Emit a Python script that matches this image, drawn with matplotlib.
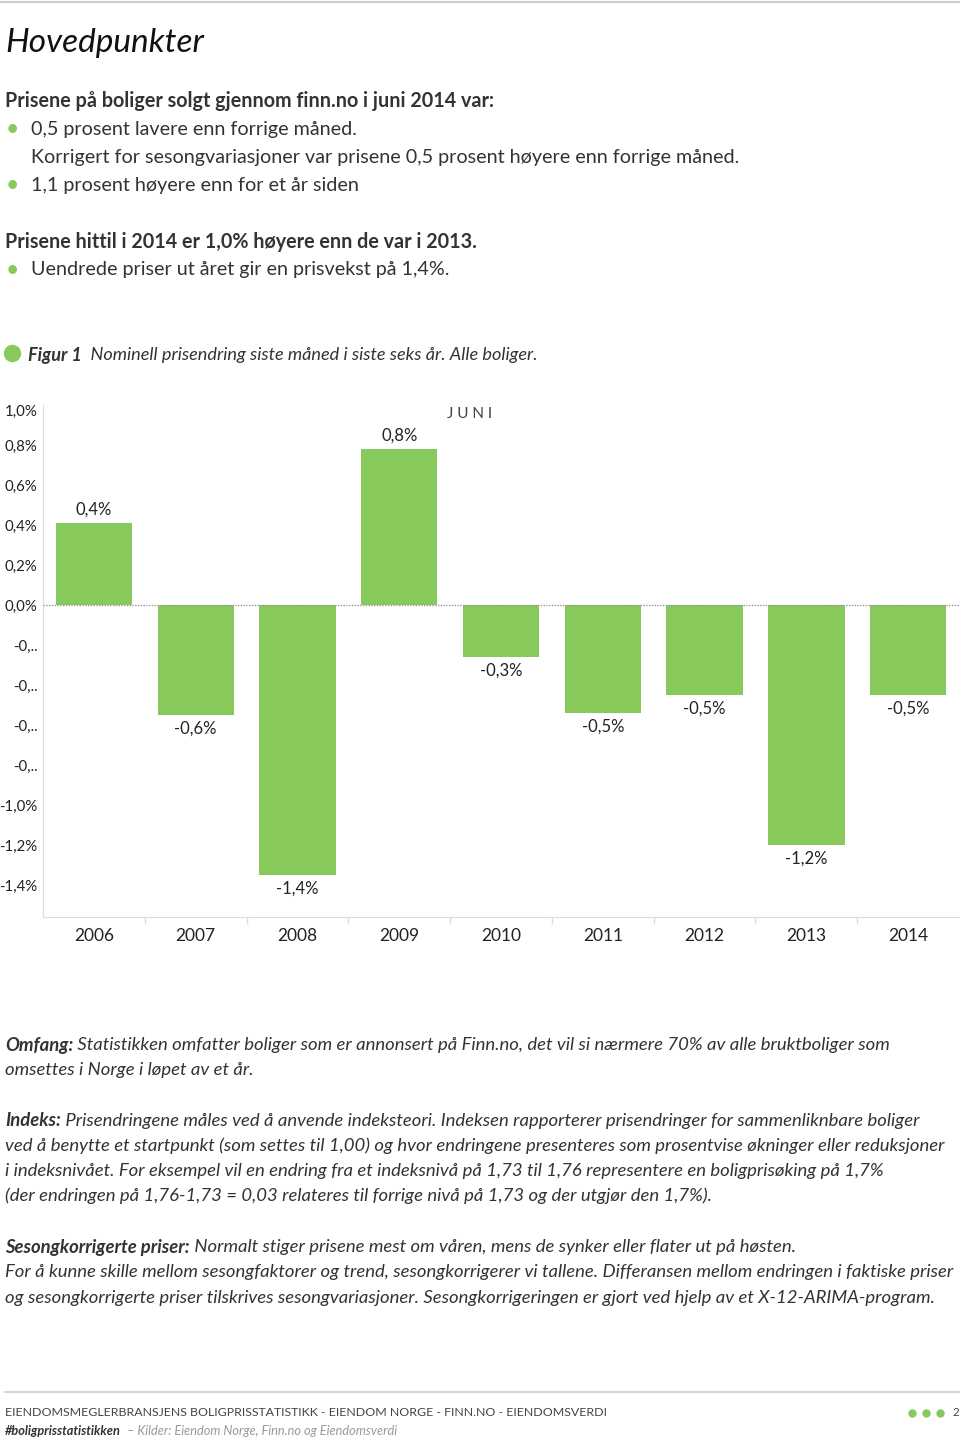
import matplotlib
matplotlib.use("Agg")
import matplotlib.pyplot as plt
from matplotlib.lines import Line2D

plt.rcParams['font.family'] = ['Lato', 'DejaVu Sans']

W, H = 960, 1442
GREEN = "#88c95c"
TXT = "#333333"

# chart data
years = ["2006", "2007", "2008", "2009", "2010", "2011", "2012", "2013", "2014"]
changes = [0.41, -0.55, -1.35, 0.78, -0.26, -0.54, -0.45, -1.2, -0.45]
bar_labels = ["0,4%", "-0,6%", "-1,4%", "0,8%", "-0,3%", "-0,5%", "-0,5%", "-1,2%", "-0,5%"]
yticks = [1.0, 0.8, 0.6, 0.4, 0.2, 0.0, -0.2, -0.4, -0.6, -0.8, -1.0, -1.2, -1.4]
ytick_labels = ["1,0%", "0,8%", "0,6%", "0,4%", "0,2%", "0,0%",
                "-0,..", "-0,..", "-0,..", "-0,..", "-1,0%", "-1,2%", "-1,4%"]


def fx(px):
    return px / W


def fy(py):
    return 1 - py / H


fig = plt.figure(figsize=(9.6, 14.42), dpi=100)


def line(x, y, parts, size, color=TXT):
    first = parts[0]
    t = fig.text(fx(x), fy(y), first[0], fontsize=size, fontweight=first[1],
                 fontstyle=first[2], color=first[3] or color, va="center", ha="left")
    for text, weight, style, col in parts[1:]:
        t = fig.gca().annotate(text, xy=(1, 0.5), xycoords=t, fontsize=size,
                               fontweight=weight, fontstyle=style, color=col or color,
                               va="center", ha="left", annotation_clip=False)
    return t


# frame lines
fig.add_artist(Line2D([0, 1], [fy(2), fy(2)], color="#cccccc", lw=1.5, transform=fig.transFigure))
fig.add_artist(Line2D([fx(5), 1], [fy(1392), fy(1392)], color="#cccccc", lw=1.2, transform=fig.transFigure))

# chart axes
ax = fig.add_axes([fx(43), fy(917), fx(916), 512 / H])
x = list(range(len(years)))
ax.bar(x, changes, width=0.75, color=GREEN, zorder=2)
ax.axhline(0, color="#999999", lw=1, ls=(0, (1, 1)), zorder=3)
for i, (v, lab) in enumerate(zip(changes, bar_labels)):
    off = 13 if v >= 0 else -14
    ax.annotate(lab, xy=(i, v), xytext=(0, off), textcoords="offset pixels",
                ha="center", va="center", fontsize=12, color="#222222")
ax.set_xlim(-0.5, len(years) - 0.5)
ax.set_ylim(-1.56, 1.0)
ax.set_yticks(yticks)
ax.set_yticklabels(ytick_labels, fontsize=10.8, color="#222222")
ax.tick_params(axis="y", length=0, pad=4)
ax.set_xticks([i + 0.5 for i in x[:-1]], minor=False)
ax.set_xticklabels([])
ax.tick_params(axis="x", length=5, color="#dddddd", width=1)
ax.set_xticks(x, minor=True)
ax.set_xticklabels(years, minor=True, fontsize=12.5, color="#222222")
ax.tick_params(axis="x", which="minor", length=0, pad=8)
for s in ["top", "right"]:
    ax.spines[s].set_visible(False)
ax.spines["left"].set_color("#dddddd")
ax.spines["bottom"].set_color("#dddddd")
ax.yaxis.get_ticklabels()[0].set_va("top")
fig.text(fx(470), fy(414), "J U N I", fontsize=11, color="#444444", ha="center", va="center")

# header text
fig.text(fx(5), fy(43), "Hovedpunkter", fontsize=24, fontstyle="italic", color="#111111",
         va="center", ha="left")
S = 14.2
line(5, 101, [("Prisene på boliger solgt gjennom finn.no i juni 2014 var:", "bold", "normal", None)], S)
for yy in (129, 185, 270):
    fig.text(fx(7), fy(yy), "•", fontsize=S, color=GREEN, va="center", ha="left", fontweight="bold")
line(31, 129, [("0,5 prosent lavere enn forrige måned.", "normal", "normal", None)], S)
line(31, 157, [("Korrigert for sesongvariasjoner var prisene 0,5 prosent høyere enn forrige måned.", "normal", "normal", None)], S)
line(31, 185, [("1,1 prosent høyere enn for et år siden", "normal", "normal", None)], S)
line(5, 242, [("Prisene hittil i 2014 er 1,0% høyere enn de var i 2013.", "bold", "normal", None)], S)
line(31, 270, [("Uendrede priser ut året gir en prisvekst på 1,4%.", "normal", "normal", None)], S)

fig.add_artist(Line2D([fx(12)], [fy(353)], marker="o", markersize=11.5, color=GREEN,
                      transform=fig.transFigure, lw=0))
line(28, 355, [("Figur 1", "bold", "italic", None),
               ("  Nominell prisendring siste måned i siste seks år. Alle boliger.", "normal", "italic", None)], 13.1)

# explanation text
B = 13.3
line(5, 1045, [("Omfang:", "bold", "italic", None),
               (" Statistikken omfatter boliger som er annonsert på Finn.no, det vil si nærmere 70% av alle bruktboliger som", "normal", "italic", None)], B)
line(5, 1070, [("omsettes i Norge i løpet av et år.", "normal", "italic", None)], B)
line(5, 1121, [("Indeks:", "bold", "italic", None),
               (" Prisendringene måles ved å anvende indeksteori. Indeksen rapporterer prisendringer for sammenliknbare boliger", "normal", "italic", None)], B)
line(5, 1146, [("ved å benytte et startpunkt (som settes til 1,00) og hvor endringene presenteres som prosentvise økninger eller reduksjoner", "normal", "italic", None)], B)
line(5, 1171, [("i indeksnivået. For eksempel vil en endring fra et indeksnivå på 1,73 til 1,76 representere en boligprisøking på 1,7%", "normal", "italic", None)], B)
line(5, 1196, [("(der endringen på 1,76-1,73 = 0,03 relateres til forrige nivå på 1,73 og der utgjør den 1,7%).", "normal", "italic", None)], B)
line(5, 1247, [("Sesongkorrigerte priser:", "bold", "italic", None),
               (" Normalt stiger prisene mest om våren, mens de synker eller flater ut på høsten.", "normal", "italic", None)], B)
line(5, 1272, [("For å kunne skille mellom sesongfaktorer og trend, sesongkorrigerer vi tallene. Differansen mellom endringen i faktiske priser", "normal", "italic", None)], B)
line(5, 1298, [("og sesongkorrigerte priser tilskrives sesongvariasjoner. Sesongkorrigeringen er gjort ved hjelp av et X-12-ARIMA-program.", "normal", "italic", None)], B)

# footer
fig.text(fx(5), fy(1412), "EIENDOMSMEGLERBRANSJENS BOLIGPRISSTATISTIKK - EIENDOM NORGE - FINN.NO - EIENDOMSVERDI",
         fontsize=8.95, color="#444444", va="center", ha="left")
line(5, 1431, [("#boligprisstatistikken", "bold", "italic", "#333333"),
               ("  – Kilder: Eiendom Norge, Finn.no og Eiendomsverdi", "normal", "italic", "#9a9a9a")], 9.2)
for xx in (912, 926, 940):
    fig.add_artist(Line2D([fx(xx)], [fy(1413)], marker="o", markersize=5, color=GREEN,
                          transform=fig.transFigure, lw=0))
fig.text(fx(956), fy(1413), "2", fontsize=8.5, color="#444444", va="center", ha="center")

fig.savefig("out.png", dpi=100)
